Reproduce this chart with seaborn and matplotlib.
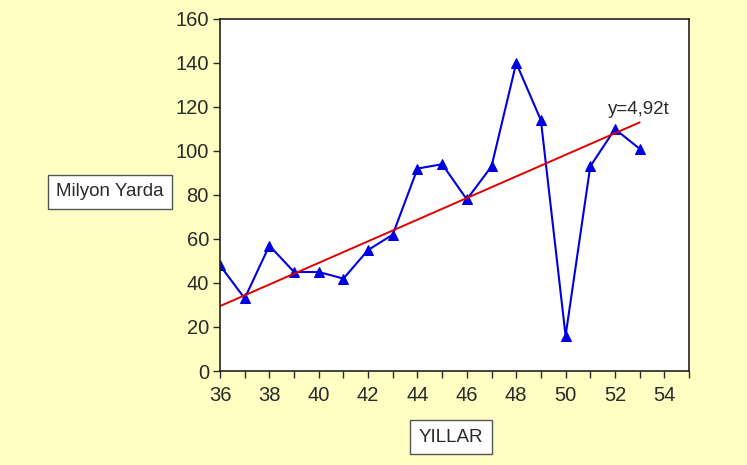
import pandas as pd
import matplotlib.pyplot as plt
import seaborn as sns
from matplotlib.ticker import MultipleLocator

# veriler
years = [36, 37, 38, 39, 40, 41, 42, 43, 44, 45, 46, 47, 48, 49, 50, 51, 52, 53]
values = [48, 33, 57, 45, 45, 42, 55, 62, 92, 94, 78, 93, 140, 114, 16, 93, 110, 101]
trend_years = [36, 53]
trend_values = [29.5, 113.0]
trend_label = 'y=4,92t'
x_label = 'YILLAR'
y_label = 'Milyon Yarda'

sns.set_theme(style='ticks')
plt.rcParams['font.family'] = ['Liberation Sans', 'DejaVu Sans']

bg = '#FFFFC4'
fig = plt.figure(figsize=(7.47, 4.65), dpi=100, facecolor=bg)
ax = fig.add_axes([220 / 747, 1 - 371 / 465, (689 - 220) / 747, (371 - 19) / 465])
ax.set_facecolor('white')

df = pd.DataFrame({'yil': years, 'deger': values})
sns.lineplot(data=df, x='yil', y='deger', ax=ax, color='#0000E0', linewidth=1.5,
             marker='^', markersize=7, markeredgecolor='#0000E0')
tr = pd.DataFrame({'yil': trend_years, 'deger': trend_values})
sns.lineplot(data=tr, x='yil', y='deger', ax=ax, color='#E00000', linewidth=1.4)

ax.set_xlim(36, 55)
ax.set_ylim(0, 160)
ax.xaxis.set_major_locator(MultipleLocator(2))
ax.xaxis.set_minor_locator(MultipleLocator(1))
ax.yaxis.set_major_locator(MultipleLocator(20))
ax.tick_params(axis='both', which='both', direction='out', colors='#2a2a2a',
               labelsize=14.5, length=5, width=1, pad=3)
ax.tick_params(axis='x', which='both', pad=6)
ax.set_xlabel('')
ax.set_ylabel('')
for s in ax.spines.values():
    s.set_color('#222222')
    s.set_linewidth(1.2)

ax.text(51.7, 115.0, trend_label, fontsize=13.5, color='#2a2a2a', ha='left', va='bottom')

box = dict(boxstyle='square,pad=0.45', facecolor='white', edgecolor='#555555', linewidth=1)
fig.text(110 / 747, 1 - 192 / 465, y_label, fontsize=13.5, color='#2a2a2a',
         ha='center', va='center', bbox=box)
fig.text(451 / 747, 1 - 437 / 465, x_label, fontsize=13.5, color='#2a2a2a',
         ha='center', va='center', bbox=box)

plt.savefig('out.png', dpi=100, facecolor=bg)
